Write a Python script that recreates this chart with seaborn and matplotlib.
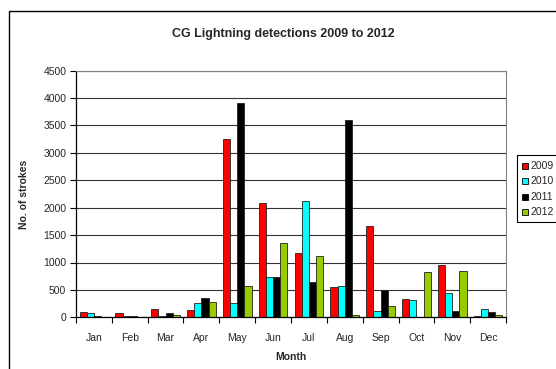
import numpy as np
import pandas as pd
import seaborn as sns
import matplotlib.pyplot as plt
from matplotlib.patches import Rectangle

months = ["Jan", "Feb", "Mar", "Apr", "May", "Jun", "Jul", "Aug", "Sep", "Oct", "Nov", "Dec"]
years = ["2009", "2010", "2011", "2012"]
strokes_2009 = [102, 84, 151, 139, 3254, 2077, 1166, 547, 1663, 339, 947, 30]
strokes_2010 = [73, 30, 30, 260, 260, 729, 2124, 570, 120, 321, 437, 151]
strokes_2011 = [20, 30, 84, 357, 3910, 729, 638, 3607, 503, 0, 120, 91]
strokes_2012 = [0, 0, 50, 284, 565, 1348, 1117, 36, 200, 820, 849, 36]
colors = ["#FF0000", "#00FFFF", "#000000", "#99CC00"]

df = pd.DataFrame({
    "Month": months * 4,
    "Year": [y for y in years for _ in months],
    "Strokes": strokes_2009 + strokes_2010 + strokes_2011 + strokes_2012,
})

sns.set_style("white")
plt.rcParams["font.family"] = ["Liberation Sans", "DejaVu Sans"]

W, H = 556, 369
fig = plt.figure(figsize=(W / 100, H / 100), dpi=100)

# chart frame (extends past the right and bottom edges)
fig.add_artist(Rectangle((8.5 / W, -0.1), 1.2, (H - 10.5) / H + 0.1,
                         transform=fig.transFigure, fill=False,
                         edgecolor="black", linewidth=1.0))

ax = fig.add_axes([76 / W, (H - 317.3) / H, (506 - 76) / W, (317.3 - 70.7) / H])

sns.barplot(data=df, x="Month", y="Strokes", hue="Year", order=months,
            hue_order=years, palette=colors, width=0.8, ax=ax,
            edgecolor="#222222", linewidth=0.6, saturation=1, legend=False)

ax.set_ylim(0, 4500)
ax.set_xlim(-0.5, 11.5)
ax.set_yticks(np.arange(0, 4501, 500))
ax.set_yticklabels([str(v) for v in range(0, 4501, 500)], fontsize=7.5)
ax.yaxis.grid(True, color="#333333", linewidth=0.8)
ax.set_axisbelow(True)

# category boundaries carry the tick marks, month labels sit between them
ax.set_xticks(np.arange(-0.5, 12, 1.0))
ax.set_xticklabels([])
ax.set_xticks(np.arange(12), minor=True)
ax.set_xticklabels(months, minor=True, fontsize=7.5)
ax.tick_params(axis="x", which="major", direction="out", length=4, width=0.8, color="black", bottom=True)
ax.tick_params(axis="x", which="minor", length=0, pad=11)
ax.tick_params(axis="y", direction="out", length=4, width=0.8, color="black", left=True, pad=3)

for side in ("left", "bottom"):
    ax.spines[side].set_color("black")
    ax.spines[side].set_linewidth(0.9)
for side in ("top", "right"):
    ax.spines[side].set_visible(True)
    ax.spines[side].set_color("#808080")
    ax.spines[side].set_linewidth(0.8)

ax.set_xlabel("Month", fontsize=7.5, fontweight="bold", labelpad=7)
ax.set_ylabel("No. of strokes", fontsize=7.5, fontweight="bold", labelpad=10)

fig.text(283 / W, 1 - 33.5 / H, "CG Lightning detections 2009 to 2012",
         ha="center", va="center", fontsize=9, fontweight="bold")

# legend box (clipped at the right edge)
fig.add_artist(Rectangle((516.7 / W, 1 - 221.5 / H), 0.2, (221.5 - 154.5) / H,
                         transform=fig.transFigure, fill=True, facecolor="white",
                         edgecolor="black", linewidth=0.8))
for i, (yr, c) in enumerate(zip(years, colors)):
    yc = 166 + i * 15.3
    fig.add_artist(Rectangle((522 / W, 1 - (yc + 3) / H), 6 / W, 6 / H,
                             transform=fig.transFigure, facecolor=c,
                             edgecolor="black", linewidth=0.6))
    fig.text(530 / W, 1 - yc / H, yr, ha="left", va="center", fontsize=7.5)

fig.savefig("out.png", dpi=100)
